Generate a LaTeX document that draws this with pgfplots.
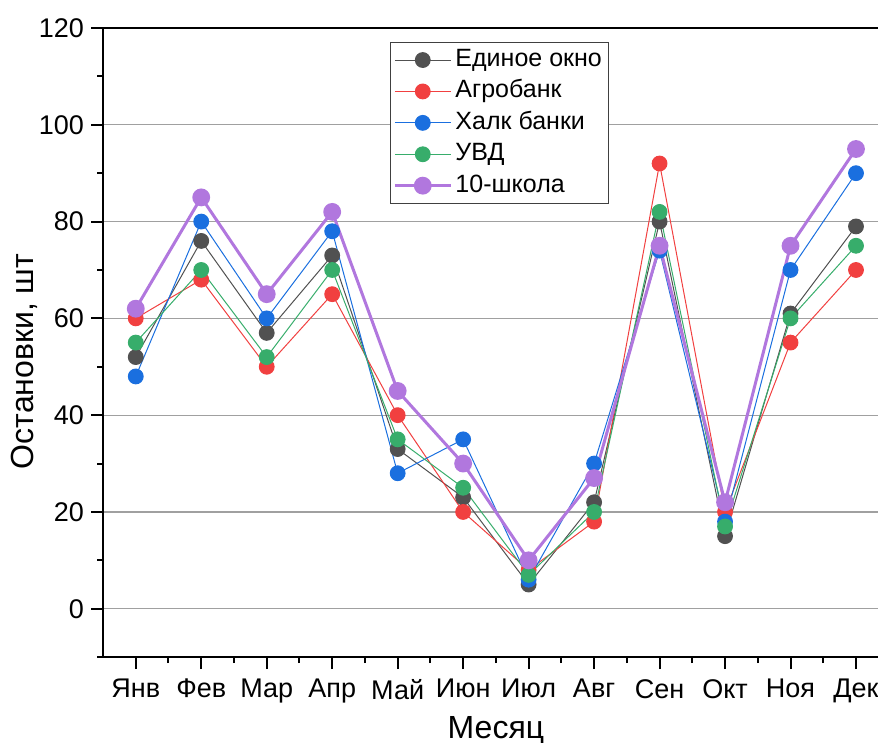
\documentclass[border=0pt]{standalone}
\usepackage{fontspec}
\setmainfont{Liberation Sans}
\usepackage{pgfplots}
\usepackage{pgfplotstable}
\pgfplotsset{compat=1.18}
\usetikzlibrary{calc}

\definecolor{cGray}{HTML}{515151}
\definecolor{cRed}{HTML}{F14040}
\definecolor{cBlue}{HTML}{1A6FDF}
\definecolor{cGreen}{HTML}{37AD6B}
\definecolor{cPurple}{HTML}{B177DE}
\definecolor{gridgray}{HTML}{A0A0A0}

% month index: 1 = Янв ... 12 = Дек
\pgfplotstableread{
m  okno agro halk uvd shk
1  52   60   48   55  62
2  76   68   80   70  85
3  57   50   60   52  65
4  73   65   78   70  82
5  33   40   28   35  45
6  23   20   35   25  30
7  5    8    6    7   10
8  22   18   30   20  27
9  80   92   74   82  75
10 15   20   18   17  22
11 61   55   70   60  75
12 79   70   90   75  95
}\stops

\begin{document}
\begin{tikzpicture}
\begin{axis}[
    scale only axis,
    width=387.4pt, height=314.5pt,
    xmin=0.5, xmax=12.336,
    ymin=-10, ymax=120,
    enlargelimits=false,
    axis x line*=box, axis y line*=left,
    axis line style={-, line width=1pt, black},
    xtick pos=bottom, ytick pos=left,
    tick align=outside,
    major tick length=6pt, minor tick length=3pt,
    every tick/.style={black, line width=1pt},
    xtick={1,...,12},
    xticklabels={Янв,Фев,Мар,Апр,Май,Июн,Июл,Авг,Сен,Окт,Ноя,Дек},
    minor xtick={1.5,2.5,...,12.5},
    ytick={0,20,...,120},
    minor ytick={-10,10,30,...,110},
    ymajorgrids=true,
    major grid style={gridgray, line width=0.6pt},
    /pgf/number format/assume math mode=true,
    tick label style={font=\fontsize{13.5}{16}\selectfont},
    xticklabel style={yshift=-1.5pt},
    ylabel={Остановки, шт},
    xlabel={Месяц},
    every axis y label/.style={at={(rel axis cs:0,0.47)}, rotate=90, anchor=center,
        yshift=39.5pt, font=\fontsize{16}{19}\selectfont},
    every axis x label/.style={at={(rel axis cs:0.507,0)}, anchor=base,
        yshift=-40.5pt, font=\fontsize{16}{19}\selectfont},
    legend style={at={(0.37,0.978)}, anchor=north west, draw=black!75,
        line width=0.5pt, font=\fontsize{12.5}{15}\selectfont,
        inner xsep=1.5pt, inner ysep=1pt,
        nodes={text height=9.5pt, text depth=3pt, inner sep=1.6pt}},
    legend cell align=left,
    legend image code/.code={
        \draw[mark repeat=2, mark phase=2] plot coordinates {(0pt,0pt) (14pt,0pt) (28pt,0pt)};
    },
    every axis plot/.append style={mark=*, mark size=3.7pt, mark options={solid}},
]
\addplot[color=cGray, line width=0.5pt, mark options={fill=cGray, draw=cGray}] table[x=m, y=okno] \stops;
\addlegendentry{Единое окно}
\addplot[color=cRed, line width=0.5pt, mark options={fill=cRed, draw=cRed}] table[x=m, y=agro] \stops;
\addlegendentry{Агробанк}
\addplot[color=cBlue, line width=0.5pt, mark options={fill=cBlue, draw=cBlue}] table[x=m, y=halk] \stops;
\addlegendentry{Халк банки}
\addplot[color=cGreen, line width=0.5pt, mark options={fill=cGreen, draw=cGreen}] table[x=m, y=uvd] \stops;
\addlegendentry{УВД}
\addplot[color=cPurple, line width=1.5pt, mark options={fill=cPurple, draw=cPurple}] table[x=m, y=shk] \stops;
\addlegendentry{10-школа}
\coordinate (bl) at (rel axis cs:0,0);
\coordinate (tr) at (rel axis cs:1,1);
\end{axis}
\pgfresetboundingbox
\path[use as bounding box] ($(bl)+(-51.5pt,-42.5pt)$) rectangle ($(tr)+(0,14pt)$);
\end{tikzpicture}
\end{document}
